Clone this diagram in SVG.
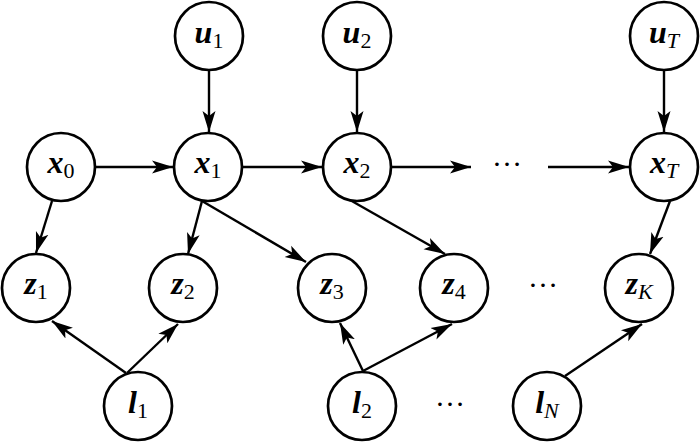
<svg xmlns="http://www.w3.org/2000/svg" width="700" height="442" viewBox="0 0 700 442">
<style>
  .n circle { fill: #fff; stroke: #000; stroke-width: 2.7; }
  .lbl { font-family: "Liberation Serif", "Times New Roman", serif; font-size: 32px; text-anchor: middle; fill: #000; }
  .v { font-weight: bold; font-style: italic; }
  .s { font-weight: normal; font-style: normal; font-size: 22px; }
  .si { font-weight: normal; font-style: italic; font-size: 22px; }
  .e line { stroke: #000; stroke-width: 2.4; marker-end: url(#ah); }
  .dots { font-family: "Liberation Serif", "Times New Roman", serif; font-size: 30px; text-anchor: middle; fill: #000; }
</style>
<defs>
  <marker id="ah" markerUnits="userSpaceOnUse" markerWidth="24" markerHeight="16" viewBox="-21 -8 24 16" refX="0" refY="0" orient="auto">
    <path d="M0,0 L-21,-6.5 L-16,0 L-21,6.5 Z" fill="#000"/>
  </marker>
</defs>
<rect width="700" height="442" fill="#fff"/>
<g id="connectors" class="e">
  <line x1="209" y1="71" x2="209" y2="132"/>
  <line x1="357" y1="71" x2="357" y2="132"/>
  <line x1="664" y1="71" x2="664" y2="132"/>
  <line x1="96" y1="167" x2="173" y2="167"/>
  <line x1="243" y1="167" x2="322" y2="167"/>
  <line x1="392" y1="167" x2="471" y2="167"/>
  <line x1="548" y1="167" x2="629" y2="167"/>
  <line x1="52" y1="201" x2="36" y2="253"/>
  <line x1="202" y1="201" x2="188" y2="254"/>
  <line x1="202" y1="201" x2="306" y2="262"/>
  <line x1="350" y1="200" x2="445" y2="254"/>
  <line x1="670" y1="201" x2="650" y2="254"/>
  <line x1="126" y1="373" x2="52" y2="321"/>
  <line x1="127" y1="373" x2="178" y2="324"/>
  <line x1="363" y1="371" x2="340" y2="323"/>
  <line x1="363" y1="371" x2="452" y2="324"/>
  <line x1="565" y1="376" x2="642" y2="324"/>
</g>
<g id="u1" class="n"><circle cx="209" cy="36" r="34"/><text class="lbl" x="209" y="43"><tspan class="v">u</tspan><tspan class="s" dy="5">1</tspan></text></g>
<g id="u2" class="n"><circle cx="357" cy="36" r="34"/><text class="lbl" x="357" y="43"><tspan class="v">u</tspan><tspan class="s" dy="5">2</tspan></text></g>
<g id="uT" class="n"><circle cx="664" cy="36" r="34"/><text class="lbl" x="664" y="43"><tspan class="v">u</tspan><tspan class="si" dy="5">T</tspan></text></g>
<g id="x0" class="n"><circle cx="61" cy="167" r="34"/><text class="lbl" x="61" y="173"><tspan class="v">x</tspan><tspan class="s" dy="5">0</tspan></text></g>
<g id="x1" class="n"><circle cx="208" cy="167" r="34"/><text class="lbl" x="208" y="173"><tspan class="v">x</tspan><tspan class="s" dy="5">1</tspan></text></g>
<g id="x2" class="n"><circle cx="357" cy="167" r="34"/><text class="lbl" x="357" y="173"><tspan class="v">x</tspan><tspan class="s" dy="5">2</tspan></text></g>
<g id="xT" class="n"><circle cx="664" cy="167" r="34"/><text class="lbl" x="664" y="173"><tspan class="v">x</tspan><tspan class="si" dy="5">T</tspan></text></g>
<g id="z1" class="n"><circle cx="36" cy="288" r="34"/><text class="lbl" x="36" y="294"><tspan class="v">z</tspan><tspan class="s" dy="5">1</tspan></text></g>
<g id="z2" class="n"><circle cx="183" cy="288" r="34"/><text class="lbl" x="183" y="294"><tspan class="v">z</tspan><tspan class="s" dy="5">2</tspan></text></g>
<g id="z3" class="n"><circle cx="332" cy="288" r="34"/><text class="lbl" x="332" y="294"><tspan class="v">z</tspan><tspan class="s" dy="5">3</tspan></text></g>
<g id="z4" class="n"><circle cx="454" cy="288" r="34"/><text class="lbl" x="454" y="294"><tspan class="v">z</tspan><tspan class="s" dy="5">4</tspan></text></g>
<g id="zK" class="n"><circle cx="639" cy="288" r="34"/><text class="lbl" x="639" y="294"><tspan class="v">z</tspan><tspan class="si" dy="5">K</tspan></text></g>
<g id="l1" class="n"><circle cx="138" cy="406" r="34"/><text class="lbl" x="138" y="413"><tspan class="v">l</tspan><tspan class="s" dy="5">1</tspan></text></g>
<g id="l2" class="n"><circle cx="362" cy="406" r="34"/><text class="lbl" x="362" y="413"><tspan class="v">l</tspan><tspan class="s" dy="5">2</tspan></text></g>
<g id="lN" class="n"><circle cx="547" cy="406" r="34"/><text class="lbl" x="547" y="413"><tspan class="v">l</tspan><tspan class="si" dy="5">N</tspan></text></g>
<text class="dots" x="507" y="166">…</text>
<text class="dots" x="543" y="287">…</text>
<text class="dots" x="450" y="406">…</text>
</svg>
